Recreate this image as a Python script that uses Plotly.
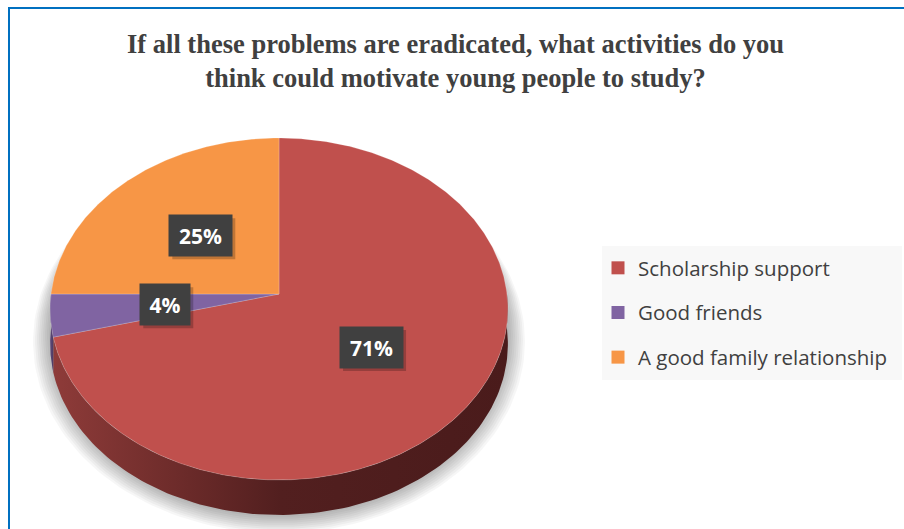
import numpy as np
import plotly.graph_objects as go

# ---------------- data ----------------
categories = ["Scholarship support", "Good friends", "A good family relationship"]
values = [71, 4, 25]
title_lines = ["If all these problems are eradicated, what activities do you",
               "think could motivate young people to study?"]

# ---------------- style ----------------
W, H = 904, 529
top_colors = ["#C0504D", "#8064A2", "#F79646"]
side_scales = [
    [[0, "#8E3B39"], [0.3, "#6A2A29"], [0.5, "#521F1F"], [1, "#4A1B1B"]],
    [[0, "#5E4A7A"], [1, "#4C3B63"]],
    [[0, "#B86F33"], [1, "#8A5226"]],
]
CX, CY, RX = 279.0, 294.0, 228.0      # pie centre & horizontal radius (px units)
TOP, BOT, DEPTH = 138.0, 480.0, 35.0  # perspective top/bottom of top face, thickness
C = (BOT + TOP - 2 * CY) / (BOT - TOP)
A = TOP * (1 + C) - CY


def proj(r, t_deg):
    t = np.radians(t_deg)
    s = r * np.sin(t)
    c = r * np.cos(t)
    den = 1 + C * s
    return CX + RX * c / den, (A * s + CY) / den


fig = go.Figure()

# soft shadow
n_layers = 9
for k in range(n_layers, 0, -1):
    e = 2.0 * k
    top_y, bot_y = 150.0, BOT + DEPTH + e
    cy_s, ry_s = (top_y + bot_y) / 2, (bot_y - top_y) / 2
    tt = np.linspace(0, 2 * np.pi, 200)
    fig.add_trace(go.Scatter(
        x=CX + (RX + e) * np.cos(tt), y=cy_s + ry_s * np.sin(tt),
        mode="lines", fill="toself", line=dict(width=0),
        fillcolor="rgba(0,0,0,0.034)", hoverinfo="skip", showlegend=False))

# slice angles: start at 12 o'clock, clockwise
total = float(sum(values))
bounds = [90 - 360 * sum(values[:i]) / total for i in range(len(values) + 1)]

# side faces (front half: angles between -180 and 0)
for i in range(len(values)):
    a0, a1 = bounds[i], bounds[i + 1]
    lo, hi = max(a1, -180), min(a0, 0)
    if hi <= lo:
        continue
    ts = np.linspace(lo, hi, 120)
    xt, yt = proj(1, ts)
    xs = np.concatenate([xt, xt[::-1]])
    ys = np.concatenate([yt, (yt + DEPTH)[::-1]])
    fig.add_trace(go.Scatter(
        x=xs, y=ys, mode="lines", fill="toself", line=dict(width=0),
        fillgradient=dict(type="horizontal", colorscale=side_scales[i]),
        hoverinfo="skip", showlegend=False))

# top faces
for i in range(len(values)):
    a0, a1 = bounds[i], bounds[i + 1]
    ts = np.linspace(a0, a1, max(int(abs(a0 - a1)), 2) * 2)
    xt, yt = proj(1, ts)
    fig.add_trace(go.Scatter(
        x=np.concatenate([[CX], xt, [CX]]), y=np.concatenate([[CY], yt, [CY]]),
        mode="lines", fill="toself", fillcolor=top_colors[i],
        line=dict(width=0.8, color="rgba(255,255,255,0.25)"),
        hoverinfo="skip", showlegend=False))

# legend entries
for i, cat in enumerate(categories):
    fig.add_trace(go.Scatter(
        x=[None], y=[None], mode="markers", name=cat, legendgroup=cat,
        marker=dict(symbol="square", size=13, color=top_colors[i]),
        showlegend=True))

shapes = [
    # legend panel
    dict(type="rect", xref="x", yref="y", x0=602, x1=902, y0=246, y1=380,
         fillcolor="#F8F8F8", line=dict(width=0), layer="below"),
    # frame lines (top and left)
    dict(type="line", xref="x", yref="y", x0=8, x1=904, y0=8, y1=8,
         line=dict(color="#0070C0", width=2)),
    dict(type="line", xref="x", yref="y", x0=9, x1=9, y0=7, y1=529,
         line=dict(color="#0070C0", width=2)),
]

# data labels
annotations = []
BOX_H = 41
for i, v in enumerate(values):
    mid = (bounds[i] + bounds[i + 1]) / 2
    lx, ly = proj(0.5, mid)
    pct = f"{round(100 * v / total)}%"
    box_w = 50 if len(pct) < 3 else 63
    # drop shadow of the label box
    shapes.append(dict(type="rect", xref="x", yref="y",
                       x0=lx - box_w / 2 + 3, x1=lx + box_w / 2 + 3,
                       y0=ly - BOX_H / 2 + 3, y1=ly + BOX_H / 2 + 3,
                       fillcolor="rgba(0,0,0,0.22)", line=dict(width=0),
                       layer="above"))
    annotations.append(dict(
        x=lx, y=ly, xref="x", yref="y", text=f"<b>{pct}</b>", showarrow=False,
        font=dict(family="Open Sans", size=21, color="white"),
        bgcolor="#404040", width=box_w - 6, height=BOX_H - 6, borderpad=3,
        align="center", valign="middle"))

# title
annotations.append(dict(
    x=455 / W, y=1 - 61 / H, xref="paper", yref="paper",
    text="<b>" + "<br>".join(title_lines) + "</b>", showarrow=False,
    xanchor="center", yanchor="middle", align="center",
    font=dict(family="Liberation Serif", size=26.5, color="#404040")))

fig.update_layout(
    width=W, height=H, margin=dict(l=0, r=0, t=0, b=0),
    paper_bgcolor="white", plot_bgcolor="white",
    xaxis=dict(range=[0, W], visible=False, fixedrange=True),
    yaxis=dict(range=[H, 0], visible=False, fixedrange=True),
    showlegend=True,
    legend=dict(x=598 / W, xanchor="left", y=1 - 248 / H, yanchor="top",
                bgcolor="rgba(0,0,0,0)", tracegroupgap=15,
                font=dict(family="Open Sans", size=20.5, color="#404040")),
    annotations=annotations, shapes=shapes,
)

fig.write_html("out.html", config={"displayModeBar": False},
               post_script="document.body.style.margin='0';"
                           "document.body.style.overflow='hidden';")
